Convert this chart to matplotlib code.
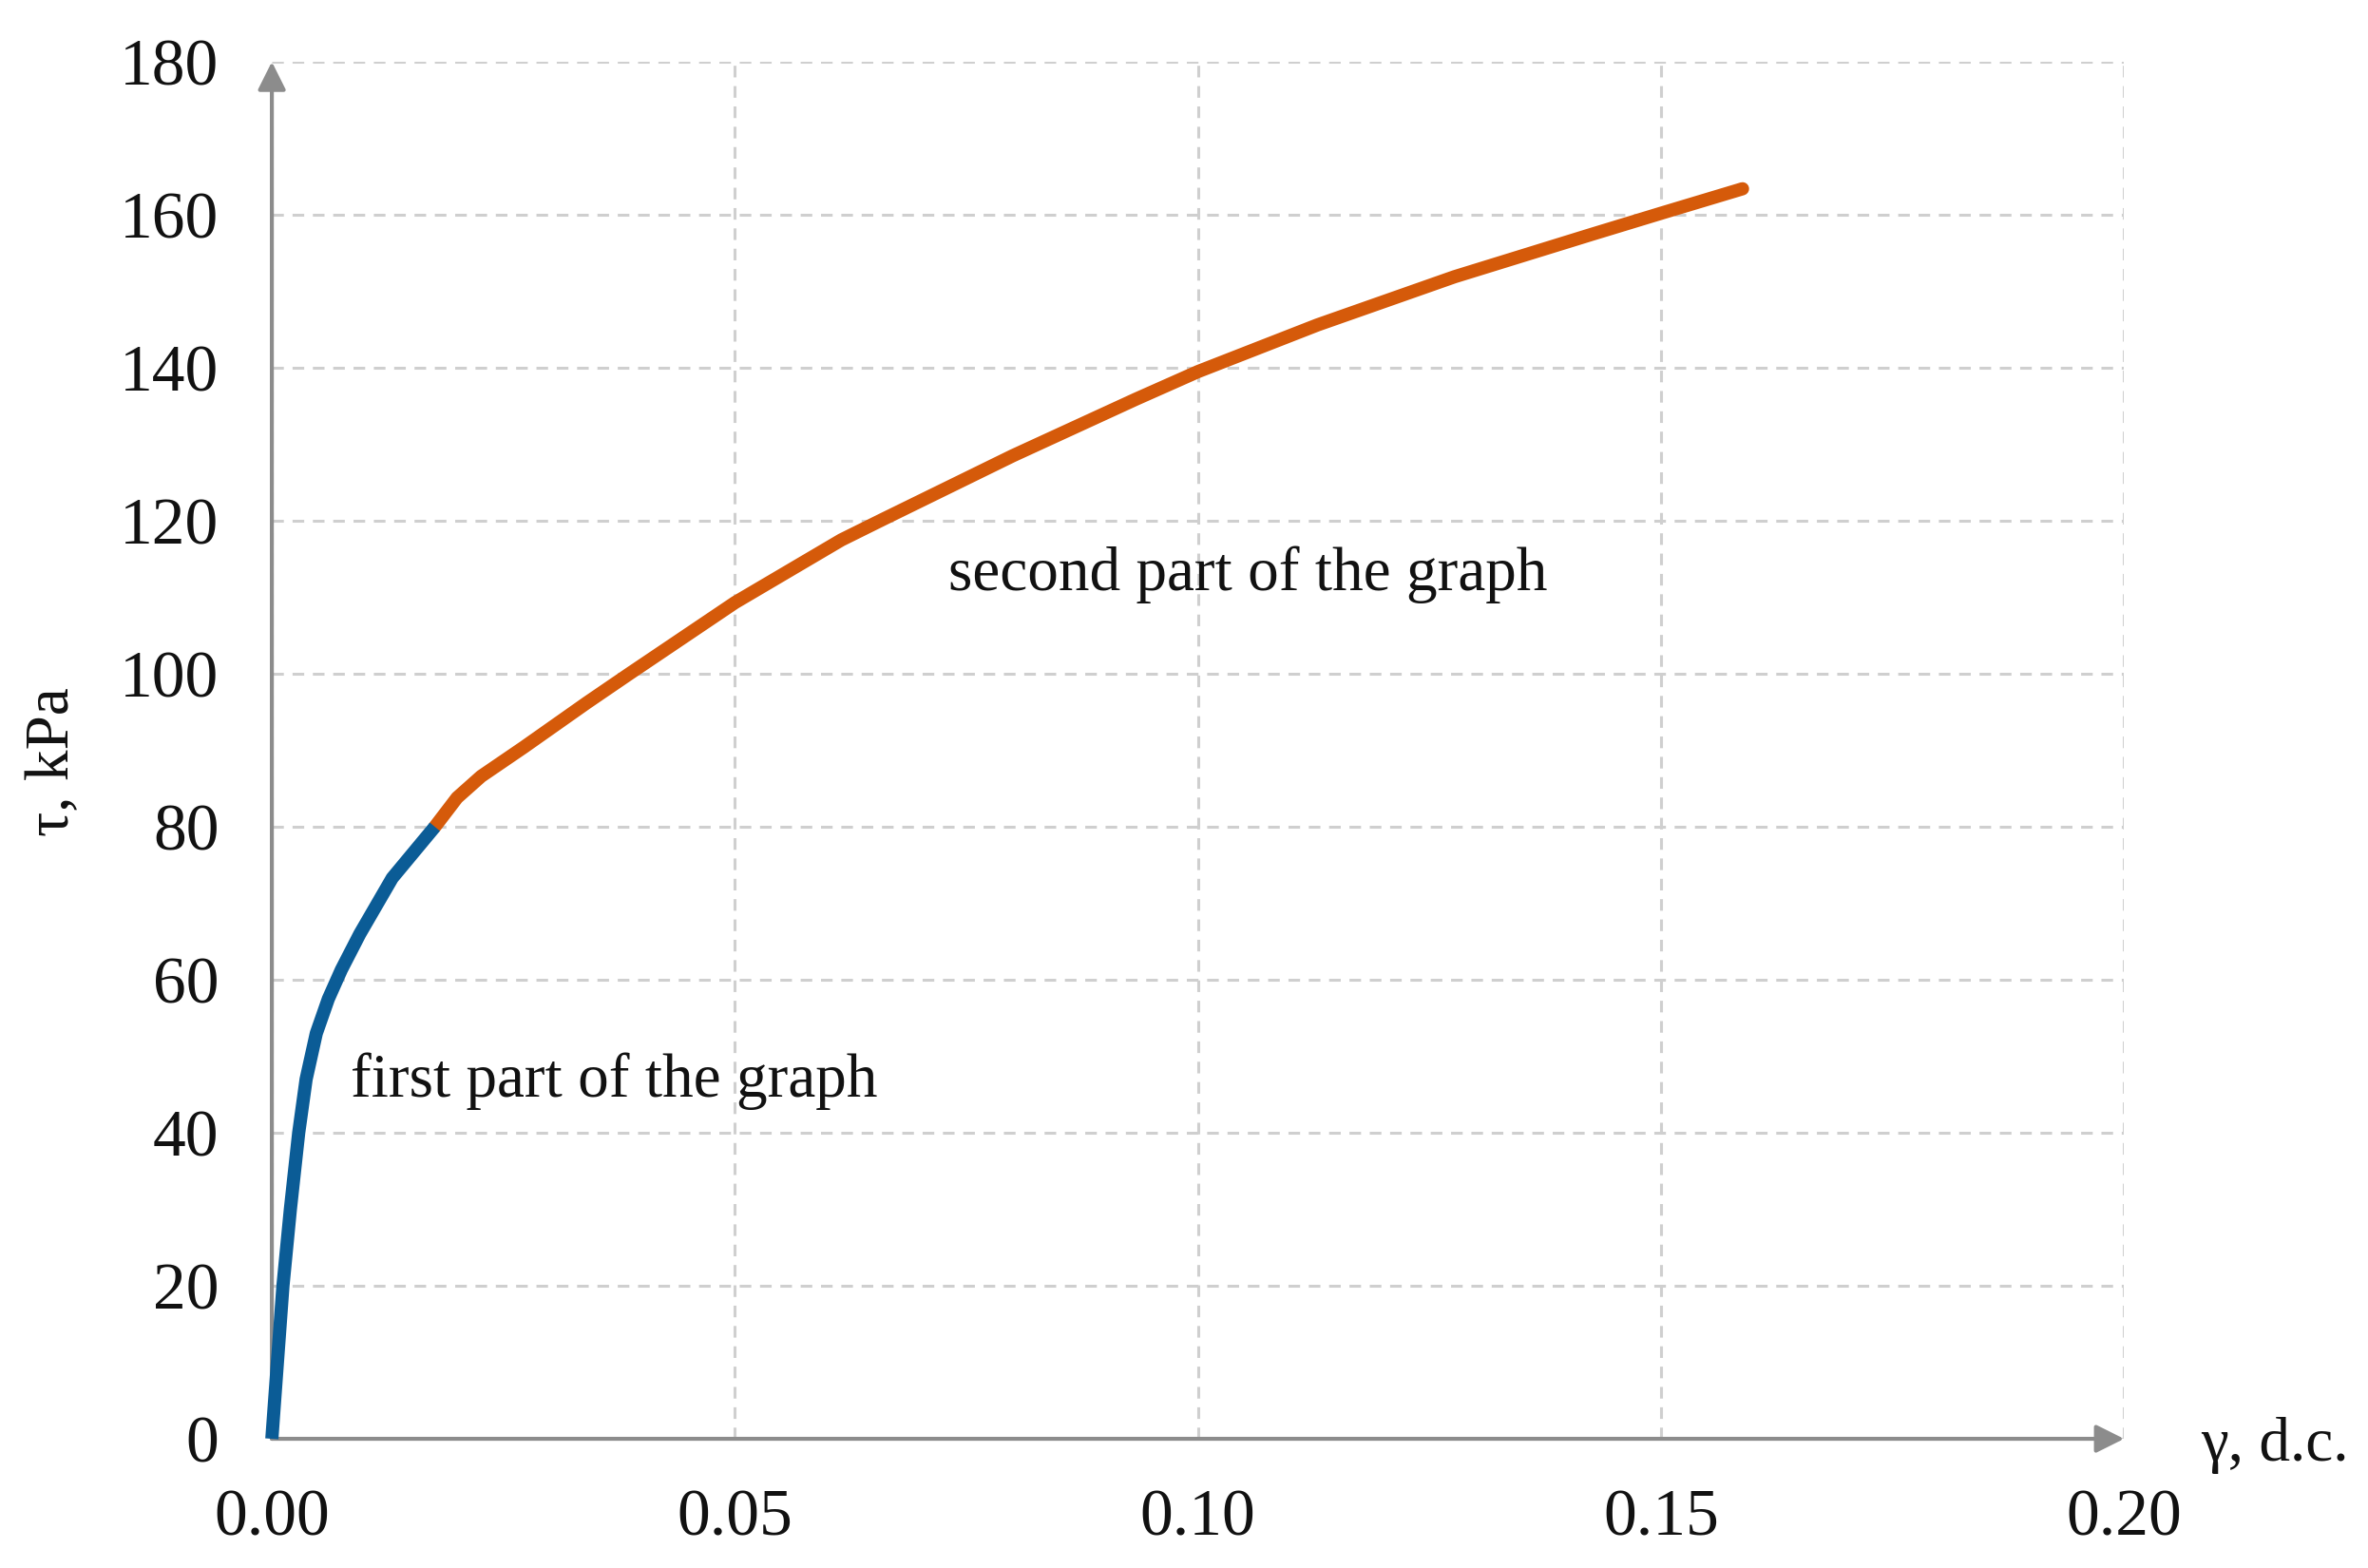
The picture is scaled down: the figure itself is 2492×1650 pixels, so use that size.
import matplotlib
matplotlib.use("Agg")
import matplotlib.pyplot as plt

# Data
first_x = [0.0, 0.0012, 0.0020, 0.0029, 0.0037, 0.0048, 0.0061, 0.0075, 0.0095, 0.0130, 0.0176]
first_y = [0.0, 20.0, 30.0, 40.0, 47.0, 53.0, 57.5, 61.3, 66.0, 73.3, 80.0]
second_x = [0.0176, 0.0200, 0.0226, 0.0272, 0.0340, 0.0386, 0.0500, 0.0615, 0.0660, 0.0800,
            0.0933, 0.1000, 0.1129, 0.1277, 0.1424, 0.1500, 0.1588]
second_y = [80.0, 83.8, 86.6, 90.4, 96.2, 100.0, 109.3, 117.5, 120.2, 128.5,
            135.9, 139.5, 145.6, 151.9, 157.4, 160.2, 163.4]
x_ticks = [0.00, 0.05, 0.10, 0.15, 0.20]
x_tick_labels = ["0.00", "0.05", "0.10", "0.15", "0.20"]
y_ticks = [0, 20, 40, 60, 80, 100, 120, 140, 160, 180]

plt.rcParams['font.family'] = ['Liberation Serif', 'DejaVu Serif']

fig = plt.figure(figsize=(24.92, 16.5), dpi=100)
ax = fig.add_axes([0.1148, 0.0824, 0.897 - 0.1148, 0.9606 - 0.0824])
ax.set_xlim(0, 0.20)
ax.set_ylim(0, 180)

for s in ax.spines.values():
    s.set_visible(False)

ax.set_xticks(x_ticks)
ax.set_xticklabels(x_tick_labels)
ax.set_yticks(y_ticks)
ax.tick_params(axis='both', length=0, labelsize=50, colors='#111111')
ax.tick_params(axis='x', pad=38)
ax.tick_params(axis='y', pad=40)
ax.grid(True, linestyle=(0, (4, 3)), color='#cfcfcf', linewidth=2.2)
ax.set_axisbelow(True)

# axes with arrows
ax.annotate('', xy=(0.20, 0), xytext=(0, 0), xycoords='data',
            arrowprops=dict(arrowstyle='-|>', color='#8c8c8c', lw=3,
                            mutation_scale=45, shrinkA=0, shrinkB=0),
            annotation_clip=False, zorder=3)
ax.annotate('', xy=(0, 180), xytext=(0, 0), xycoords='data',
            arrowprops=dict(arrowstyle='-|>', color='#8c8c8c', lw=3,
                            mutation_scale=45, shrinkA=0, shrinkB=0),
            annotation_clip=False, zorder=3)

ax.plot(second_x, second_y, color='#d55a0a', lw=10, solid_capstyle='round',
        solid_joinstyle='round', zorder=4, clip_on=False)
ax.plot(first_x, first_y, color='#0b5c96', lw=10, solid_capstyle='butt',
        solid_joinstyle='round', zorder=5, clip_on=False)

ax.text(0.0085, 46.8, "first part of the graph", fontsize=47, va='center', ha='left', color='#111111')
ax.text(0.073, 113, "second part of the graph", fontsize=47, va='center', ha='left', color='#111111')

fig.text(56 / 2492, 1 - 802 / 1650, "τ, kPa", rotation=90, fontsize=47,
         ha='center', va='center', color='#111111')
fig.text(2316 / 2492, 1 - 1521 / 1650, "γ, d.c.", fontsize=47,
         ha='left', va='center', color='#111111')

fig.savefig("out.png", dpi=100)
